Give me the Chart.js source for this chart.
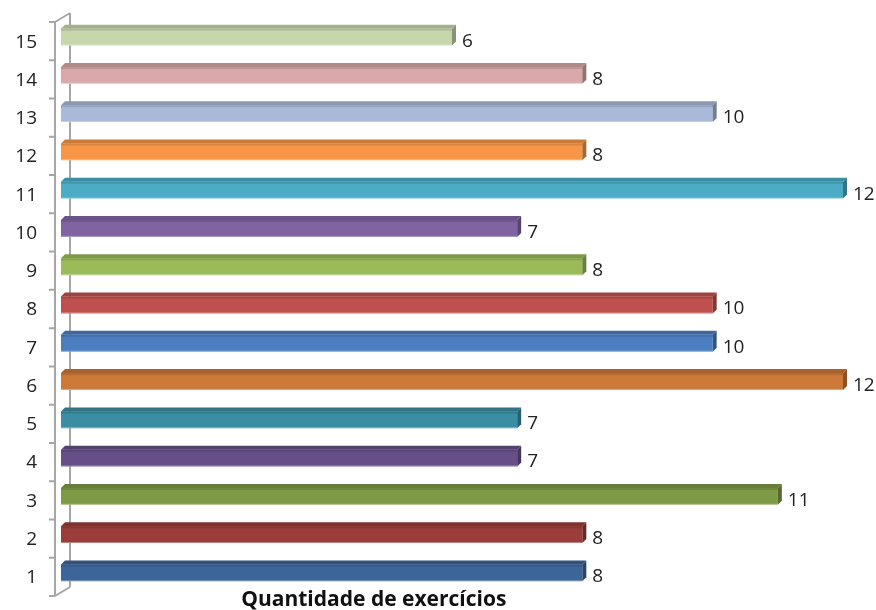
<!DOCTYPE html>
<html>
<head>
<meta charset="utf-8">
<script src="https://cdn.jsdelivr.net/npm/chart.js@4/dist/chart.umd.min.js"></script>
<style>
html,body{margin:0;padding:0;background:#fff;}
#wrap{width:876px;height:610px;position:relative;}
</style>
</head>
<body>
<div id="wrap"><canvas id="c" width="876" height="610"></canvas></div>
<script>
const categories = ['1','2','3','4','5','6','7','8','9','10','11','12','13','14','15'];
const values = [8, 8, 11, 7, 7, 12, 10, 10, 8, 7, 12, 8, 10, 8, 6];
const barColors = ['#3C659A','#9B3D3B','#7E9A47','#654F86','#3A8DA3','#CD7937','#4A7EC1','#C0504D','#9BBB59','#8064A2','#4BACC6','#F79646','#A8B9D9','#D8A9A8','#C6D8AB'];
const axisTitle = 'Quantidade de exercícios';

function shade(hex, f){
  const n = parseInt(hex.slice(1),16);
  let r=(n>>16)&255,g=(n>>8)&255,b=n&255;
  r=Math.round(r*f);g=Math.round(g*f);b=Math.round(b*f);
  return 'rgb('+Math.min(255,r)+','+Math.min(255,g)+','+Math.min(255,b)+')';
}

const wallPlugin = {
  id:'wall',
  beforeDatasetsDraw(chart){
    const {ctx, chartArea:a, scales:{y}} = chart;
    const fx = a.left-6, bx = a.left+9, off = 4, d = 9;
    ctx.save();
    ctx.strokeStyle = '#A6A6A6';
    ctx.lineWidth = 2;
    ctx.beginPath();
    ctx.moveTo(fx, a.top+off); ctx.lineTo(fx, a.bottom+off);
    ctx.moveTo(bx, a.top+off-d); ctx.lineTo(bx, a.bottom+off-d);
    ctx.moveTo(fx, a.top+off); ctx.lineTo(bx, a.top+off-d);
    ctx.moveTo(fx, a.bottom+off); ctx.lineTo(bx, a.bottom+off-d);
    const n = categories.length;
    for(let i=0;i<=n;i++){
      const yy = a.top + (a.bottom-a.top)*i/n + off;
      ctx.moveTo(fx-6, yy); ctx.lineTo(fx, yy);
    }
    ctx.stroke();
    // category labels from the y scale
    ctx.fillStyle = '#222';
    ctx.font = '19px "Open Sans", sans-serif';
    ctx.textAlign = 'right';
    ctx.textBaseline = 'middle';
    categories.forEach((lab,i)=>{
      ctx.fillText(lab, a.left-24, y.getPixelForValue(i)+5);
    });
    ctx.restore();
  },
  afterDatasetsDraw(chart){
    const {ctx} = chart;
    const meta = chart.getDatasetMeta(0);
    const dp = 4;
    ctx.save();
    meta.data.forEach((el,i)=>{
      const top = el.y - el.height/2, bot = el.y + el.height/2;
      const x0 = el.base, x1 = el.x;
      const c = barColors[i];
      ctx.fillStyle = shade(c,0.82);
      ctx.beginPath();
      ctx.moveTo(x0, top); ctx.lineTo(x1, top); ctx.lineTo(x1+dp, top-dp); ctx.lineTo(x0+dp, top-dp); ctx.closePath();
      ctx.fill();
      ctx.fillStyle = shade(c,0.88);
      ctx.fillRect(x0, top, x1-x0, 2);
      ctx.fillStyle = shade(c,0.68);
      ctx.beginPath();
      ctx.moveTo(x1, top); ctx.lineTo(x1+dp, top-dp); ctx.lineTo(x1+dp, bot-dp); ctx.lineTo(x1, bot); ctx.closePath();
      ctx.fill();
      ctx.fillStyle = 'rgba(255,255,255,0.35)';
      ctx.fillRect(x0, bot-1, x1-x0, 1);
      ctx.fillStyle = '#222';
      ctx.font = '19px "Open Sans", sans-serif';
      ctx.textAlign = 'left';
      ctx.textBaseline = 'middle';
      ctx.fillText(String(values[i]), x1+10, el.y+4);
    });
    const a = chart.chartArea;
    ctx.font = 'bold 21px "Open Sans", sans-serif';
    ctx.textAlign = 'center';
    ctx.textBaseline = 'middle';
    ctx.fillStyle = '#111';
    ctx.fillText(axisTitle, a.left + (a.right-a.left)*0.4, 600);
    ctx.restore();
  }
};

new Chart(document.getElementById('c'), {
  type:'bar',
  data:{
    labels: categories,
    datasets:[{
      data: values,
      backgroundColor: barColors,
      borderWidth: 0,
      barPercentage: 0.88,
      categoryPercentage: 0.5
    }]
  },
  options:{
    indexAxis:'y',
    responsive:false,
    animation:false,
    layout:{padding:{top:18,bottom:18,left:61,right:33}},
    plugins:{legend:{display:false},tooltip:{enabled:false}},
    scales:{
      x:{display:false,min:0,max:12},
      y:{display:false,reverse:true}
    }
  },
  plugins:[wallPlugin]
});
</script>
</body>
</html>
